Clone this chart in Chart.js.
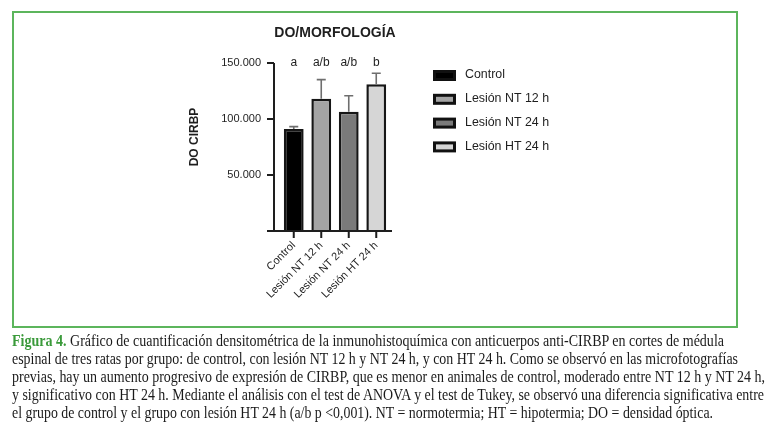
<!DOCTYPE html>
<html>
<head>
<meta charset="utf-8">
<script src="https://cdn.jsdelivr.net/npm/chart.js@4"></script>
<style>
  html, body { margin: 0; padding: 0; background: #fff; }
  body { width: 768px; height: 431px; position: relative; overflow: hidden; }
  #chartBox { position: absolute; left: 0; top: 0; width: 768px; height: 326px; }
  #frame { position: absolute; left: 12px; top: 11px; width: 722px; height: 313px; border: 2px solid #5cb55c; pointer-events: none; }
  .cap { position: absolute; left: 12px; white-space: nowrap; font-family: "Liberation Serif", "DejaVu Serif", serif;
         font-size: 16px; line-height: 18px; color: #1a1a1a; transform-origin: 0 50%; }
  .cap b { color: #3a9a3a; }
</style>
</head>
<body>
<div id="chartBox"><canvas id="chart" width="768" height="326"></canvas></div>
<div id="frame"></div>
<div class="cap" style="top:332px" data-w="712"><b>Figura 4.</b> Gráfico de cuantificación densitométrica de la inmunohistoquímica con anticuerpos anti-CIRBP en cortes de médula</div>
<div class="cap" style="top:350px" data-w="726">espinal de tres ratas por grupo: de control, con lesión NT 12 h y NT 24 h, y con HT 24 h. Como se observó en las microfotografías</div>
<div class="cap" style="top:368px" data-w="753">previas, hay un aumento progresivo de expresión de CIRBP, que es menor en animales de control, moderado entre NT 12 h y NT 24 h,</div>
<div class="cap" style="top:386px" data-w="752">y significativo con HT 24 h. Mediante el análisis con el test de ANOVA y el test de Tukey, se observó una diferencia significativa entre</div>
<div class="cap" style="top:404px" data-w="701">el grupo de control y el grupo con lesión HT 24 h (a/b p &lt;0,001). NT = normotermia; HT = hipotermia; DO = densidad óptica.</div>
<script>
// datos
const categories = ['Control', 'Lesión NT 12 h', 'Lesión NT 24 h', 'Lesión HT 24 h'];
const means = [91000, 118000, 106500, 131000];
const errUp = [2200, 17200, 14300, 9800];
const letters = ['a', 'a/b', 'a/b', 'b'];
const yTicks = [50000, 100000, 150000];
const fills = ['#000000', '#a4a4a4', '#7a7a7a', '#d6d6d6'];

const FONT = '"Liberation Sans", Arial, sans-serif';
const INK = '#1e1e1e';

// ajusta ancho de cada linea del pie de figura
document.querySelectorAll('.cap').forEach(el => {
  const w = el.getBoundingClientRect().width;
  el.style.transform = 'scaleX(' + (Number(el.dataset.w) / w) + ')';
});

function fmt(v) {
  return String(v).replace(/\B(?=(\d{3})+(?!\d))/g, '.');
}

// ejes, barras de error, letras, titulos y leyenda
const decor = {
  id: 'decor',
  afterDatasetsDraw(chart) {
    const ctx = chart.ctx;
    const x = chart.scales.x, y = chart.scales.y;
    const area = chart.chartArea;
    const y0 = y.getPixelForValue(0);
    const axX = area.left - 6;
    ctx.save();
    ctx.strokeStyle = INK;
    ctx.lineWidth = 2;
    ctx.lineCap = 'butt';
    // eje y
    ctx.beginPath();
    ctx.moveTo(axX, y.getPixelForValue(yTicks[yTicks.length - 1]));
    ctx.lineTo(axX, y0);
    yTicks.forEach(t => {
      const py = Math.round(y.getPixelForValue(t));
      ctx.moveTo(axX - 7, py);
      ctx.lineTo(axX, py);
    });
    // eje x
    ctx.moveTo(axX - 7, y0);
    ctx.lineTo(area.right + 2, y0);
    categories.forEach((c, i) => {
      const px = x.getPixelForValue(i);
      ctx.moveTo(px, y0);
      ctx.lineTo(px, y0 + 7);
    });
    ctx.stroke();

    // barras de error (solo hacia arriba)
    ctx.strokeStyle = '#6e6e6e';
    ctx.lineWidth = 1.6;
    ctx.beginPath();
    means.forEach((m, i) => {
      const px = x.getPixelForValue(i);
      const top = y.getPixelForValue(m + errUp[i]);
      ctx.moveTo(px, y.getPixelForValue(m));
      ctx.lineTo(px, top);
      ctx.moveTo(px - 4.5, top);
      ctx.lineTo(px + 4.5, top);
    });
    ctx.stroke();

    // letras de significancia
    ctx.fillStyle = INK;
    ctx.font = '12px ' + FONT;
    ctx.textAlign = 'center';
    ctx.textBaseline = 'middle';
    letters.forEach((l, i) => {
      ctx.fillText(l, x.getPixelForValue(i), area.top);
    });

    // titulo
    ctx.font = 'bold 14px ' + FONT;
    ctx.fillText('DO/MORFOLOGÍA', 335, 33);

    // titulo eje y
    ctx.save();
    ctx.translate(195, 137);
    ctx.rotate(-Math.PI / 2);
    ctx.font = 'bold 12px ' + FONT;
    ctx.fillText('DO CIRBP', 0, 0);
    ctx.restore();

    // leyenda
    ctx.textAlign = 'left';
    ctx.font = '12.4px ' + FONT;
    categories.forEach((c, i) => {
      const cy = 75 + i * 23.8;
      ctx.fillStyle = '#111';
      ctx.fillRect(433, cy - 5, 23, 11);
      ctx.fillStyle = fills[i];
      ctx.fillRect(436, cy - 2, 17, 5);
      ctx.fillStyle = INK;
      ctx.fillText(c, 465, cy);
    });
    ctx.restore();
  }
};

new Chart(document.getElementById('chart'), {
  type: 'bar',
  data: {
    labels: categories,
    datasets: [{
      data: means,
      backgroundColor: fills,
      borderColor: '#161616',
      borderWidth: 2.5,
      barPercentage: 0.9,
      categoryPercentage: 0.8
    }]
  },
  options: {
    responsive: false,
    animation: false,
    events: [],
    layout: { padding: { left: 220, right: 378, top: 63, bottom: 15 } },
    plugins: { legend: { display: false }, tooltip: { enabled: false }, title: { display: false } },
    scales: {
      x: {
        grid: { display: false, drawTicks: false },
        border: { display: false },
        afterFit: s => { s.height = 80; },
        ticks: {
          color: INK, font: { family: FONT, size: 11 },
          minRotation: 45, maxRotation: 45, autoSkip: false, padding: 8
        }
      },
      y: {
        min: 0, max: 150000,
        grid: { display: false, drawTicks: false },
        border: { display: false },
        afterFit: s => { s.width = 60; },
        afterBuildTicks: s => { s.ticks = yTicks.map(v => ({ value: v })); },
        ticks: {
          color: INK, font: { family: FONT, size: 11 }, padding: 19,
          callback: v => fmt(v)
        }
      }
    }
  },
  plugins: [decor]
});
</script>
</body>
</html>
